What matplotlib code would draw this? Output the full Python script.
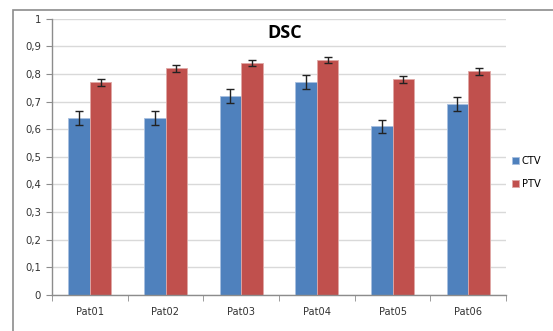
import matplotlib
matplotlib.use("Agg")
import matplotlib.pyplot as plt
import numpy as np
from matplotlib.patches import Rectangle

categories = ["Pat01", "Pat02", "Pat03", "Pat04", "Pat05", "Pat06"]
ctv = [0.64, 0.64, 0.72, 0.77, 0.61, 0.69]
ctv_err = [0.025, 0.025, 0.025, 0.025, 0.025, 0.025]
ptv = [0.77, 0.82, 0.84, 0.85, 0.78, 0.81]
ptv_err = [0.012, 0.013, 0.012, 0.012, 0.013, 0.013]
yticks = [0, 0.1, 0.2, 0.3, 0.4, 0.5, 0.6, 0.7, 0.8, 0.9, 1]
ytick_labels = ["0", "0,1", "0,2", "0,3", "0,4", "0,5", "0,6", "0,7", "0,8", "0,9", "1"]

plt.rcParams['font.family'] = ['DejaVu Sans']
W, H = 553, 331
fig = plt.figure(figsize=(W/100, H/100), dpi=100)

# outer chart border
fig.patches.append(Rectangle((13/W, -0.1), 1.2, (H-10)/H + 0.1, transform=fig.transFigure,
                             fill=False, edgecolor="#8c8c8c", linewidth=1.2))

left, right, top, bottom = 52, 506, 18.7, 295
ax = fig.add_axes([left/W, 1-bottom/H, (right-left)/W, (bottom-top)/H])

x = np.arange(len(categories))
bw = 0.285
blue = "#4F81BD"
red = "#C0504D"
ax.bar(x - bw/2, ctv, bw, color=blue, edgecolor="#a8c0e0", linewidth=0.6, label="CTV", zorder=2)
ax.bar(x + bw/2, ptv, bw, color=red, edgecolor="#e0a8a6", linewidth=0.6, label="PTV", zorder=2)
ax.errorbar(x - bw/2, ctv, yerr=ctv_err, fmt="none", ecolor="#222222", elinewidth=1, capsize=3, capthick=1, zorder=3)
ax.errorbar(x + bw/2, ptv, yerr=ptv_err, fmt="none", ecolor="#222222", elinewidth=1, capsize=3, capthick=1, zorder=3)

ax.set_xlim(-0.5, len(categories) - 0.5)
ax.set_ylim(0, 1)
ax.set_yticks(yticks)
ax.set_yticklabels(ytick_labels, fontsize=7.3, color="#333333")
ax.set_xticks(x)
ax.set_xticklabels(categories, fontsize=7.1, color="#333333")
ax.set_xticks(np.arange(-0.5, len(categories), 1), minor=True)
ax.tick_params(axis="x", which="major", length=0, pad=8.5)
ax.tick_params(axis="x", which="minor", length=4, color="#8c8c8c", direction="out")
ax.tick_params(axis="y", length=4, color="#8c8c8c", direction="out", pad=4)
ax.grid(axis="y", color="#d9d9d9", linewidth=1, zorder=0)
ax.set_axisbelow(True)
for s in ["top", "right"]:
    ax.spines[s].set_visible(False)
for s in ["left", "bottom"]:
    ax.spines[s].set_color("#8c8c8c")
    ax.spines[s].set_linewidth(1)

fig.text(285/W, 1-33.5/H, "DSC", ha="center", va="center", fontsize=13, fontweight="bold",
         family=["Open Sans", "DejaVu Sans"])

leg = fig.legend(loc="upper left", bbox_to_anchor=(508/W, 1-152/H), frameon=False,
                 fontsize=7.1, handlelength=0.7, handleheight=0.7, handletextpad=0.3,
                 labelspacing=1.3, borderaxespad=0)

fig.savefig("out.png", dpi=100)
